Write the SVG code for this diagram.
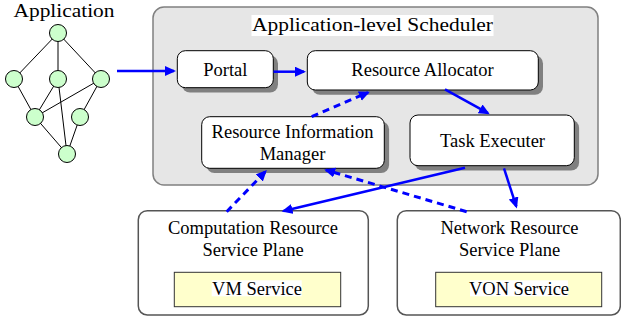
<svg xmlns="http://www.w3.org/2000/svg" width="621" height="322" viewBox="0 0 621 322" font-family="'Liberation Serif', 'Times New Roman', serif">
<defs>
<style>
text{font-family:"Liberation Serif","Times New Roman",serif;fill:#000;}
.t{font-size:18.5px;text-anchor:middle;}
.box{fill:#fff;stroke:#000;stroke-width:1;}
.shadow{fill:#808080;}
.plane{fill:#fff;stroke:#555;stroke-width:1.5;}
.svc{fill:#ffffcc;stroke:#333;stroke-width:1;}
.gn{fill:#ccffcc;stroke:#000;stroke-width:1;}
.ge{stroke:#000;stroke-width:1;fill:none;}
.s{stroke:#0000ff;stroke-width:2.5;fill:none;marker-end:url(#ah);}
.d{stroke:#0000ff;stroke-width:3;fill:none;stroke-dasharray:7,5;marker-end:url(#ah);}
</style>
<marker id="ah" markerUnits="userSpaceOnUse" markerWidth="12" markerHeight="11" refX="9" refY="5" orient="auto">
<path d="M0,0 L11,5 L0,10 z" fill="#0000ff"/>
</marker>
</defs>
<rect width="621" height="322" fill="#fff"/>

<g id="application">
<text x="64" y="17" font-family="'Liberation Serif', serif" font-size="18.5" text-anchor="middle" textLength="101" lengthAdjust="spacingAndGlyphs">Application</text>
<g class="ge">
<line x1="58" y1="33" x2="14" y2="79"/>
<line x1="58" y1="33" x2="58" y2="79"/>
<line x1="58" y1="33" x2="101" y2="79"/>
<line x1="14" y1="79" x2="35" y2="117"/>
<line x1="58" y1="79" x2="35" y2="117"/>
<line x1="101" y1="79" x2="35" y2="117"/>
<line x1="58" y1="79" x2="67" y2="154"/>
<line x1="101" y1="79" x2="80" y2="117"/>
<line x1="35" y1="117" x2="67" y2="154"/>
<line x1="80" y1="117" x2="67" y2="154"/>
</g>
<circle class="gn" cx="58" cy="33" r="8.5"/>
<circle class="gn" cx="14" cy="79" r="8.5"/>
<circle class="gn" cx="58" cy="79" r="8.5"/>
<circle class="gn" cx="101" cy="79" r="8.5"/>
<circle class="gn" cx="35" cy="117" r="8.5"/>
<circle class="gn" cx="80" cy="117" r="8.5"/>
<circle class="gn" cx="67" cy="154" r="8.5"/>
</g>

<g id="scheduler">
<rect x="153" y="7" width="445" height="178" rx="11" fill="#e6e6e6" stroke="#808080" stroke-width="1.5"/>
<rect x="251.5" y="15" width="242" height="21" fill="#fff"/>
<text x="372.5" y="31" font-family="'Liberation Serif', serif" font-size="19.5" text-anchor="middle" textLength="241" lengthAdjust="spacingAndGlyphs">Application-level Scheduler</text>
</g>

<g id="portal">
<rect class="shadow" x="182" y="55.5" width="96" height="37" rx="8"/>
<rect class="box" x="177.3" y="50.7" width="96" height="37" rx="8"/>
<text class="t" x="225.3" y="76">Portal</text>
</g>

<g id="resource-allocator">
<rect class="shadow" x="312" y="55.5" width="231" height="39.3" rx="8"/>
<rect class="box" x="307.3" y="50.7" width="231" height="39.3" rx="8"/>
<text class="t" x="422.5" y="76">Resource Allocator</text>
</g>

<g id="resource-information-manager">
<rect class="shadow" x="206.5" y="121.5" width="182.6" height="51.6" rx="8"/>
<rect class="box" x="201.7" y="116.7" width="182.6" height="51.6" rx="8"/>
<text class="t" x="292.5" y="137.5">Resource Information</text>
<text class="t" x="292.5" y="159.5">Manager</text>
</g>

<g id="task-executer">
<rect class="shadow" x="414.8" y="119.8" width="164.3" height="50.7" rx="8"/>
<rect class="box" x="410" y="115" width="164.3" height="50.7" rx="8"/>
<text class="t" x="492.5" y="147">Task Executer</text>
</g>

<g id="computation-plane">
<rect class="plane" x="138.3" y="210.7" width="230" height="104.3" rx="9"/>
<text class="t" x="253" y="233.5">Computation Resource</text>
<text class="t" x="253" y="256">Service Plane</text>
<rect class="svc" x="174.3" y="272.3" width="166.4" height="34.4"/>
<rect x="211.7" y="280.3" width="90" height="16" fill="#fff"/>
<text class="t" x="257" y="294.5">VM Service</text>
</g>

<g id="network-plane">
<rect class="plane" x="397.3" y="210.7" width="223" height="104.3" rx="9"/>
<text class="t" x="509.5" y="233.5">Network Resource</text>
<text class="t" x="509.5" y="256">Service Plane</text>
<rect class="svc" x="435.7" y="272.3" width="166" height="34.4"/>
<rect x="470" y="280.3" width="98" height="16" fill="#fff"/>
<text class="t" x="519" y="294.5">VON Service</text>
</g>

<g id="connectors">
<line class="s" x1="117" y1="71" x2="174" y2="71"/>
<line class="s" x1="273.5" y1="71.7" x2="304" y2="71.7"/>
<line class="d" x1="311.7" y1="116.7" x2="368" y2="92.5"/>
<line class="s" x1="445" y1="89.3" x2="488" y2="113.2"/>
<line class="s" x1="465" y1="167.7" x2="283.5" y2="211"/>
<line class="s" x1="504" y1="168.3" x2="516.3" y2="206.5"/>
<line class="d" x1="226.7" y1="211.7" x2="265.5" y2="171.5"/>
<line class="d" x1="466.7" y1="211.7" x2="326" y2="170"/>
</g>
</svg>
